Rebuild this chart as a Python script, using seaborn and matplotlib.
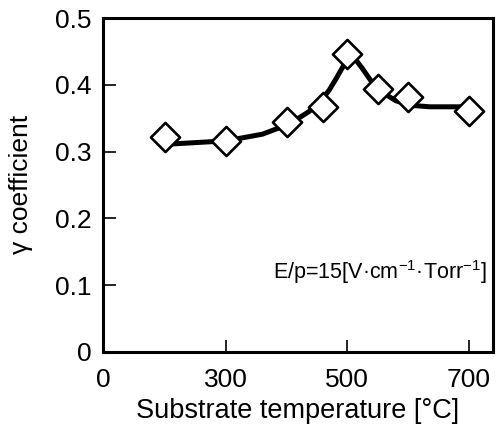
import matplotlib
matplotlib.use("Agg")
import matplotlib.pyplot as plt
import seaborn as sns
import pandas as pd

# measured points
temp = [200, 300, 400, 460, 500, 550, 600, 700]
gamma = [0.322, 0.316, 0.344, 0.367, 0.446, 0.394, 0.382, 0.361]

# fitted guide curve
curve_temp = [205, 300, 360, 404, 437, 455, 470, 482, 492, 500, 507, 515, 525, 548, 580, 607, 636, 691, 713]
curve_gamma = [0.311, 0.316, 0.326, 0.341, 0.360, 0.374, 0.392, 0.410, 0.426, 0.437, 0.441, 0.436, 0.424, 0.394, 0.376, 0.369, 0.367, 0.367, 0.367]

xtick_vals = [97, 300, 500, 700]
xtick_labels = ["0", "300", "500", "700"]
ytick_vals = [0, 0.1, 0.2, 0.3, 0.4, 0.5]
ytick_labels = ["0", "0.1", "0.2", "0.3", "0.4", "0.5"]

sns.set_theme(style="ticks")
plt.rcParams["font.family"] = ["Liberation Sans", "DejaVu Sans"]
plt.rcParams["mathtext.default"] = "regular"

fig = plt.figure(figsize=(5.02, 4.29), dpi=100)
ax = fig.add_axes([0.205, 0.18, 0.777, 0.778])

pts = pd.DataFrame({"T": temp, "g": gamma})
cur = pd.DataFrame({"T": curve_temp, "g": curve_gamma})

sns.lineplot(data=cur, x="T", y="g", ax=ax, color="black", linewidth=3.6, sort=False,
             estimator=None)
sns.scatterplot(data=pts, x="T", y="g", ax=ax, marker="D", s=220, facecolor="white",
                edgecolor="black", linewidth=1.9, zorder=5)

ax.set_xlim(97, 740)
ax.set_ylim(0, 0.5)
ax.set_xticks(xtick_vals)
ax.set_xticklabels(xtick_labels)
ax.set_yticks(ytick_vals)
ax.set_yticklabels(ytick_labels)
ax.tick_params(direction="in", length=9, width=1.2, labelsize=19, colors="black",
               pad=8)
ax.tick_params(axis="x", pad=12)
for s in ax.spines.values():
    s.set_linewidth(2.2)
    s.set_color("black")

ax.set_xlabel("Substrate temperature [°C]", fontsize=19.5, labelpad=4, color="black")
ax.set_ylabel("γ coefficient", fontsize=19, labelpad=16, color="black")

ax.text(0.985, 0.24, "E/p=15[V·cm$^{-1}$·Torr$^{-1}$]", transform=ax.transAxes,
        ha="right", va="center", fontsize=15.5, color="black")

fig.savefig("out.png", dpi=100)
